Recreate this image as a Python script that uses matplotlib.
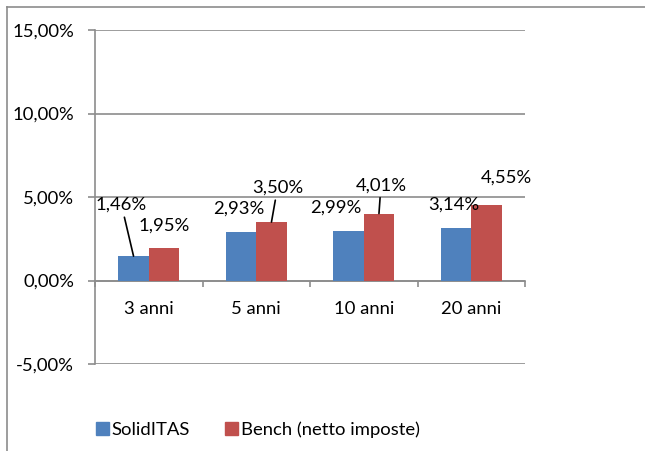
import matplotlib
matplotlib.use("Agg")
import matplotlib.pyplot as plt
from matplotlib.lines import Line2D
import numpy as np

categories = ["3 anni", "5 anni", "10 anni", "20 anni"]
solid = [1.46, 2.93, 2.99, 3.14]
bench = [1.95, 3.50, 4.01, 4.55]
series_names = ["SolidITAS", "Bench (netto imposte)"]
yticks = [-5, 0, 5, 10, 15]

# label offsets in pixels (dx, dy up), and whether a leader line is drawn
solid_off = [(-12, 51, True), (-2, 23, False), (-13, 23, False), (-2, 23, False)]
bench_off = [(0, 22, False), (6, 34, True), (2, 28, True), (20, 27, False)]

BLUE = "#4F81BD"
RED = "#C0504D"
GRID = "#8C8C8C"
FONT = "Lato"
FS = 13.3

plt.rcParams["font.family"] = [FONT, "DejaVu Sans"]

W, H = 645, 451
fig = plt.figure(figsize=(W / 100, H / 100), dpi=100)
ax = fig.add_axes([95 / W, 87 / H, (525 - 95) / W, (364 - 30) / H])

x = np.arange(len(categories))
bw = 0.283
ax.bar(x - bw / 2, solid, bw, color=BLUE, label=series_names[0], zorder=3)
ax.bar(x + bw / 2, bench, bw, color=RED, label=series_names[1], zorder=3)

ax.set_xlim(-0.5, len(categories) - 0.5)
ax.set_ylim(yticks[0], yticks[-1])
ax.set_yticks(yticks)
ax.set_yticklabels([f"{v:.2f}%".replace(".", ",") for v in yticks], fontsize=FS)
ax.yaxis.grid(True, color=GRID, lw=1.2, zorder=0)
ax.tick_params(axis="y", length=5, color=GRID, width=1.2, pad=10)

for s in ["top", "right"]:
    ax.spines[s].set_visible(False)
ax.spines["left"].set_color(GRID)
ax.spines["left"].set_linewidth(1.2)
ax.spines["bottom"].set_position(("data", 0))
ax.spines["bottom"].set_color(GRID)
ax.spines["bottom"].set_linewidth(1.2)

ax.set_xticks(x)
ax.set_xticklabels(categories, fontsize=FS)
ax.set_xticks(np.arange(-0.5, len(categories)), minor=True)
ax.tick_params(axis="x", which="major", length=0, pad=15)
ax.tick_params(axis="x", which="minor", length=4.5, color=GRID, width=1.2, direction="out")


def fmt(v):
    return f"{v:.2f}%".replace(".", ",")


def label(xs, vals, offs):
    for xi, v, (dx, dy, line) in zip(xs, vals, offs):
        kw = dict(xy=(xi, v), xytext=(dx, dy), textcoords="offset pixels",
                  ha="center", va="center", fontsize=FS, zorder=5,
                  xycoords="data")
        if line:
            kw["arrowprops"] = dict(arrowstyle="-", color="black", lw=1.2,
                                    shrinkA=1, shrinkB=0)
        ax.annotate(fmt(v), **kw)


label(x - bw / 2, solid, solid_off)
label(x + bw / 2, bench, bench_off)

handles = [plt.Rectangle((0, 0), 1, 1, color=BLUE), plt.Rectangle((0, 0), 1, 1, color=RED)]
fig.legend(handles, series_names, loc="center", bbox_to_anchor=(258 / W, 1 - 430 / H),
           ncol=2, frameon=False, fontsize=FS, handlelength=0.7, handleheight=0.7,
           handletextpad=0.15, columnspacing=1.9)

# outer chart frame (partially visible)
fig.add_artist(Line2D([7 / W, 7 / W], [0, 1 - 7 / H], transform=fig.transFigure, color=GRID, lw=1.2))
fig.add_artist(Line2D([7 / W, 1], [1 - 7 / H, 1 - 7 / H], transform=fig.transFigure, color=GRID, lw=1.2))

fig.savefig("out.png", dpi=100)
